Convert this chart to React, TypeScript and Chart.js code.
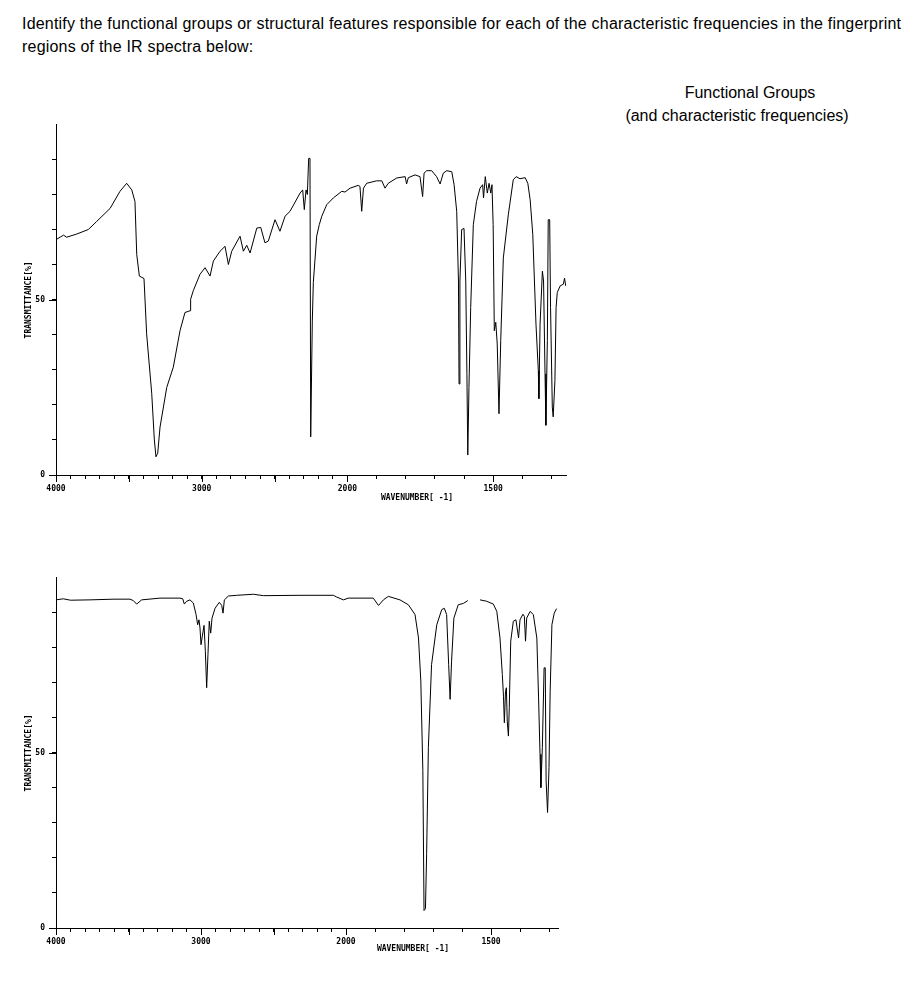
import React, { useEffect, useRef } from 'react';
import { Chart, LinearScale, registerables } from 'chart.js';

Chart.register(...registerables);

// ---------- data ----------
const topWavenumber = [
  4000, 3948, 3927, 3858, 3778, 3721, 3629, 3561, 3515, 3480, 3458, 3446, 3428, 3396, 3378, 3343, 3325, 3314, 3302, 3286,
  3240, 3195, 3149, 3115, 3080, 3076, 3058, 3012, 2977, 2943, 2920, 2874, 2840, 2817, 2794, 2737, 2714, 2691, 2668, 2622,
  2595, 2566, 2543, 2497, 2463, 2428, 2394, 2325, 2307, 2296, 2284, 2275, 2266, 2257, 2252, 2241, 2234, 2211, 2193, 2176,
  2142, 2097, 2039, 2017, 1991, 1963, 1957, 1951, 1945, 1934, 1900, 1882, 1871, 1860, 1831, 1802, 1797, 1791, 1768, 1751,
  1742, 1737, 1728, 1711, 1694, 1682, 1671, 1659, 1642, 1634, 1625, 1619, 1617, 1614, 1608, 1600, 1594, 1590, 1587, 1583,
  1577, 1568, 1557, 1545, 1536, 1533, 1527, 1520, 1514, 1508, 1504, 1500, 1496, 1491, 1486, 1480, 1474, 1465, 1448, 1431,
  1421, 1408, 1390, 1381, 1373, 1364, 1353, 1345, 1343, 1339, 1331, 1327, 1322, 1319, 1314, 1311, 1306, 1303, 1297, 1294,
  1288, 1284, 1280, 1270, 1259, 1255, 1251,
];
const topTransmittance = [
  67.2, 68.5, 67.9, 68.8, 70.1, 72.4, 76.1, 81.0, 83.3, 81.4, 78.1, 63.0, 56.8, 56.1, 40.3, 23.3, 10.0, 5.2, 6.2, 13.7,
  25.0, 30.8, 41.2, 46.4, 46.9, 50.2, 52.6, 57.3, 59.2, 56.8, 61.1, 63.9, 65.3, 60.1, 63.9, 68.2, 63.9, 65.6, 63.4, 70.5,
  70.7, 66.3, 66.8, 72.9, 69.6, 73.9, 75.3, 80.5, 81.4, 75.8, 81.4, 80.1, 90.4, 90.4, 10.9, 44.0, 55.0, 68.2, 71.5, 73.9,
  77.2, 79.1, 81.0, 80.8, 81.9, 82.7, 82.4, 75.3, 81.9, 83.3, 84.0, 84.0, 81.9, 83.3, 84.8, 85.2, 83.1, 84.9, 85.7, 85.2,
  79.5, 86.2, 86.9, 86.9, 85.2, 83.1, 86.2, 86.9, 86.6, 82.9, 75.3, 55.4, 26.0, 55.4, 70.1, 70.4, 55.4, 28.9, 5.7, 25.0,
  47.8, 71.5, 78.1, 81.9, 82.9, 79.1, 85.2, 80.5, 83.3, 80.5, 82.9, 71.5, 41.2, 43.6, 37.4, 17.5, 38.4, 62.0, 74.3, 84.3,
  85.2, 84.6, 84.9, 83.3, 78.6, 68.7, 43.1, 29.8, 21.8, 43.1, 58.2, 55.4, 28.9, 14.2, 38.4, 72.9, 72.9, 47.8, 19.4, 16.6,
  27.0, 47.8, 52.1, 54.0, 54.5, 56.2, 54.0,
];

const bottomWavenumber = [
  4000, 3950, 3900, 3766, 3600, 3490, 3467, 3444, 3409, 3283, 3145, 3126, 3115, 3099, 3076, 3053, 3034, 3023, 3014, 3007,
  3000, 2991, 2979, 2970, 2961, 2952, 2943, 2933, 2924, 2903, 2874, 2857, 2848, 2839, 2811, 2754, 2639, 2570, 2317, 2087,
  2064, 2018, 1992, 1906, 1888, 1871, 1854, 1814, 1785, 1762, 1750, 1742, 1735, 1731, 1726, 1722, 1716, 1705, 1687, 1670,
  1661, 1653, 1646, 1641, 1636, 1628, 1613, 1595, 1580, 1560, 1538, 1515, 1492, 1480, 1469, 1461, 1457, 1454, 1450, 1447,
  1444, 1440, 1437, 1432, 1423, 1414, 1405, 1400, 1390, 1385, 1381, 1377, 1365, 1354, 1342, 1336, 1331, 1328, 1323, 1317,
  1313, 1310, 1305, 1300, 1296, 1290, 1282, 1274,
];
const bottomTransmittance: (number | null)[] = [
  93.7, 94.0, 93.6, 93.7, 93.9, 93.9, 93.5, 92.5, 93.7, 94.2, 94.2, 94.0, 92.5, 93.3, 93.7, 92.8, 89.5, 86.6, 88.0, 85.7,
  80.9, 83.3, 86.4, 79.0, 68.6, 78.1, 87.6, 84.2, 88.5, 91.3, 93.0, 92.1, 89.9, 93.7, 94.8, 95.0, 95.3, 94.9, 95.0, 95.0,
  94.5, 93.7, 94.2, 94.2, 92.1, 93.7, 94.7, 93.7, 92.3, 89.5, 82.8, 70.5, 44.9, 5.0, 5.5, 21.2, 51.5, 75.2, 86.6, 90.9,
  91.3, 89.5, 75.2, 65.3, 76.2, 88.5, 92.3, 92.7, 93.5, null, 93.7, 93.3, 92.5, 90.4, 82.8, 72.4, 66.2, 58.6, 67.6, 68.6,
  59.1, 54.8, 62.9, 81.9, 87.6, 88.0, 82.8, 88.0, 89.6, 89.0, 81.9, 88.5, 90.4, 89.5, 82.8, 65.7, 49.6, 40.1, 51.5, 74.3,
  74.3, 42.0, 33.0, 45.8, 67.6, 86.6, 89.9, 91.2,
];

const xTickLabels = [4000, 3000, 2000, 1500];
const xMajorTicks = [4000, 3500, 3000, 2500, 2000, 1500];
const yTickLabels = [0, 50];
const yMajorTicks = [0, 50];

// ---------- custom IR wavenumber scale (2x expansion below 2000 cm-1) ----------
const HI = 4000;
const BREAK = 2000;
function toU(w: number) {
  return w >= BREAK ? HI - w : HI - BREAK + (BREAK - w) * 2;
}
function fromU(u: number) {
  return u <= HI - BREAK ? HI - u : BREAK - (u - (HI - BREAK)) / 2;
}

class IRScale extends LinearScale {
  static id = 'irwavenumber';
  static defaults = LinearScale.defaults;
  getPixelForValue(value: number) {
    const a = toU(this.max);
    const b = toU(this.min);
    return this.getPixelForDecimal((toU(value) - a) / (b - a));
  }
  getValueForPixel(pixel: number) {
    const a = toU(this.max);
    const b = toU(this.min);
    return fromU(a + this.getDecimalForPixel(pixel) * (b - a));
  }
  buildTicks() {
    const ticks: { value: number }[] = [];
    for (let v = Math.floor(this.max / 100) * 100; v >= this.min; v -= 100) ticks.push({ value: v });
    (this as any).start = this.min;
    (this as any).end = this.max;
    return ticks as any;
  }
}
Chart.register(IRScale as any);

const axisFont = { family: '"DejaVu Sans Mono", monospace', size: 8, weight: 'bold' as const };

function makeMajorPlugin() {
  return {
    id: 'majorTicks',
    afterDraw(chart: any) {
      const { ctx, chartArea, scales } = chart;
      const x = scales.x;
      const y = scales.y;
      ctx.save();
      ctx.strokeStyle = '#000';
      ctx.lineWidth = 1;
      ctx.beginPath();
      for (const v of xMajorTicks) {
        if (v < x.min || v > x.max) continue;
        const px = Math.round(x.getPixelForValue(v)) + 0.5;
        ctx.moveTo(px, chartArea.bottom);
        ctx.lineTo(px, chartArea.bottom + 7);
      }
      for (const v of yMajorTicks) {
        const py = Math.round(y.getPixelForValue(v)) + 0.5;
        ctx.moveTo(chartArea.left - 7, py);
        ctx.lineTo(chartArea.left, py);
      }
      ctx.stroke();
      ctx.restore();
    },
  };
}

type SpecProps = {
  wn: number[];
  tr: (number | null)[];
  xMin: number;
  width: number;
  height: number;
  padRight: number;
};

function Spectrum({ wn, tr, xMin, width, height, padRight }: SpecProps) {
  const ref = useRef<HTMLCanvasElement | null>(null);
  useEffect(() => {
    if (!ref.current) return;
    const points = wn.map((w, i) => ({ x: w, y: tr[i] }));
    const chart = new Chart(ref.current, {
      type: 'line',
      data: {
        datasets: [
          {
            data: points as any,
            borderColor: '#000',
            borderWidth: 1,
            pointRadius: 0,
            tension: 0,
            spanGaps: false,
            fill: false,
          },
        ],
      },
      options: {
        animation: false,
        responsive: false,
        maintainAspectRatio: false,
        events: [],
        layout: { padding: { top: 10, right: padRight, left: 0, bottom: 0 } },
        plugins: { legend: { display: false }, tooltip: { enabled: false }, title: { display: false } },
        scales: {
          x: {
            type: 'irwavenumber' as any,
            min: xMin,
            max: 4000,
            afterFit: (s: any) => {
              s.height = 38;
            },
            border: { display: true, color: '#000', width: 1 },
            grid: { display: true, drawOnChartArea: false, drawTicks: true, tickLength: 4, color: '#000', tickColor: '#000' },
            ticks: {
              autoSkip: false,
              maxRotation: 0,
              minRotation: 0,
              padding: 5,
              color: '#000',
              font: axisFont,
              callback: (v: any) => (xTickLabels.includes(Number(v)) ? String(v) : ''),
            },
          } as any,
          y: {
            type: 'linear',
            min: 0,
            max: 100,
            afterFit: (s: any) => {
              s.width = 56;
            },
            afterBuildTicks: (s: any) => {
              s.ticks = s.ticks.filter((t: any) => t.value % 10 === 0 && t.value < 100);
            },
            border: { display: true, color: '#000', width: 1 },
            grid: { display: true, drawOnChartArea: false, drawTicks: true, tickLength: 4, color: '#000', tickColor: '#000' },
            ticks: {
              stepSize: 10,
              autoSkip: false,
              padding: 7,
              color: '#000',
              font: axisFont,
              callback: (v: any) => (yTickLabels.includes(Number(v)) ? String(v) : ''),
            },
            title: {
              display: true,
              text: 'TRANSMITTANCE[%]',
              color: '#000',
              font: axisFont,
              padding: { top: 24, bottom: 0 },
            },
          },
        },
      },
      plugins: [makeMajorPlugin()],
    });
    return () => chart.destroy();
  }, []);
  return <canvas ref={ref} width={width} height={height} style={{ width, height, display: 'block' }} />;
}

const textFont = '16px "Liberation Sans", Arial, sans-serif';
const axisTitleStyle: React.CSSProperties = {
  position: 'absolute',
  font: 'bold 8px "DejaVu Sans Mono", monospace',
  whiteSpace: 'nowrap',
  transform: 'translateX(-50%)',
  color: '#000',
  lineHeight: '10px',
};

export default function App() {
  return (
    <div style={{ position: 'absolute', left: 0, top: 0, width: 908, height: 1004, background: '#fff', overflow: 'hidden' }}>
      <div style={{ position: 'absolute', left: 22, top: 12, font: textFont, lineHeight: '23px', letterSpacing: '0.2px', whiteSpace: 'nowrap', color: '#000' }}>
        Identify the functional groups or structural features responsible for each of the characteristic frequencies in the fingerprint
        <br />
        regions of the IR spectra below:
      </div>
      <div style={{ position: 'absolute', left: 750, top: 83, font: textFont, lineHeight: '20px', whiteSpace: 'nowrap', transform: 'translateX(-50%)', color: '#000' }}>
        Functional Groups
      </div>
      <div style={{ position: 'absolute', left: 737, top: 106, font: textFont, lineHeight: '20px', whiteSpace: 'nowrap', transform: 'translateX(-50%)', color: '#000' }}>
        (and characteristic frequencies)
      </div>

      <div style={{ position: 'absolute', left: 0, top: 113 }}>
        <Spectrum wn={topWavenumber} tr={topTransmittance} xMin={1250} width={590} height={400} padRight={24} />
      </div>
      <div style={{ ...axisTitleStyle, left: 417, top: 493 }}>WAVENUMBER[ -1]</div>

      <div style={{ position: 'absolute', left: 0, top: 566 }}>
        <Spectrum wn={bottomWavenumber} tr={bottomTransmittance} xMin={1269} width={590} height={400} padRight={32} />
      </div>
      <div style={{ ...axisTitleStyle, left: 413, top: 944 }}>WAVENUMBER[ -1]</div>
    </div>
  );
}
